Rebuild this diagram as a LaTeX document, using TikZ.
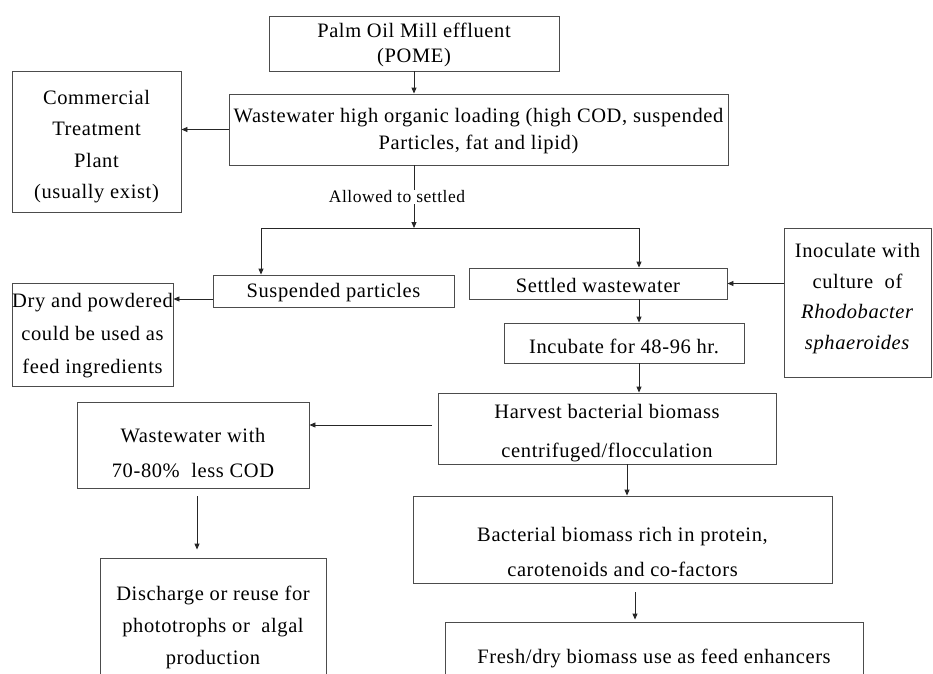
\documentclass[tikz,border=0pt]{standalone}
\usepackage{fontspec}
\setmainfont{Liberation Serif}[LetterSpace=3]
\usetikzlibrary{arrows.meta}
\tikzset{
  box/.style={draw=black!70, line width=0.9pt, inner sep=0pt},
  lbl/.style={font=\fontsize{20.5}{#1}\selectfont, align=center, inner sep=0pt, text=black},
  lbl/.default=25,
  conn/.style={draw=black!85, line width=0.9pt},
  arr/.style={conn, -{Triangle[length=6pt,width=5pt]}},
}
\begin{document}
\begin{tikzpicture}[x=1pt,y=-1pt]
\clip (0,0) rectangle (933,673);
\fill[white] (0,0) rectangle (933,673);

% boxes
\node[box, minimum width=290, minimum height=55,
  label={[lbl=25, yshift=-1pt]center:{Palm Oil Mill effluent\\(POME)}}] (pome) at (414,43.5) {};
\node[box, minimum width=499, minimum height=71,
  label={[lbl=27, yshift=-2pt]center:{Wastewater high organic loading (high COD, suspended\\Particles, fat and lipid)}}] (ww) at (478.5,129.5) {};
\node[box, minimum width=169, minimum height=141,
  label={[lbl=31.5, yshift=-5pt]center:{Commercial\\Treatment\\Plant\\(usually exist)}}] (comm) at (96.5,141.5) {};
\node[font=\fontsize{17.5}{20}\selectfont, inner sep=1pt] (lab) at (397,197) {Allowed to settled};
\node[box, minimum width=241, minimum height=32,
  label={[lbl, yshift=-2pt]center:{Suspended particles}}] (susp) at (333.5,291) {};
\node[box, minimum width=161, minimum height=103,
  label={[lbl=33, yshift=-1pt]center:{Dry and powdered\\could be used as\\feed ingredients}}] (dry) at (92.5,334.5) {};
\node[box, minimum width=258, minimum height=31,
  label={[lbl, yshift=-2pt]center:{Settled wastewater}}] (settled) at (598,283.5) {};
\node[box, minimum width=147, minimum height=149,
  label={[lbl=30.5, yshift=4pt]center:{Inoculate with\\culture~ of\\\textit{Rhodobacter}\\\textit{sphaeroides}}}] (inoc) at (857.5,302.5) {};
\node[box, minimum width=240, minimum height=40,
  label={[lbl, yshift=-3pt]center:{Incubate for 48-96 hr.}}] (incub) at (624,343) {};
\node[box, minimum width=338, minimum height=71,
  label={[lbl=39, yshift=-5pt]center:{Harvest bacterial biomass\\centrifuged/flocculation}}] (harv) at (607,428.5) {};
\node[box, minimum width=232, minimum height=86,
  label={[lbl=35, yshift=-8pt]center:{Wastewater with\\70-80\%~~less COD}}] (wwl) at (193,445) {};
\node[box, minimum width=226, minimum height=142,
  label={[lbl=32, yshift=2pt]center:{Discharge or reuse for\\phototrophs or~~algal\\production}}] (disc) at (213,629) {};
\node[box, minimum width=419, minimum height=87,
  label={[lbl=35, yshift=-12pt]center:{Bacterial biomass rich in protein,\\carotenoids and co-factors}}] (bact) at (622.5,539.5) {};
\node[box, minimum width=418, minimum height=78,
  label={[lbl, yshift=3pt]center:{Fresh/dry biomass use as feed enhancers}}] (fresh) at (654,661) {};

% connectors
\draw[arr] (pome) -- (pome |- ww.north);
\draw[arr] (ww.west) -- (comm.east |- ww.west);
\draw[conn] (pome |- ww.south) -- (pome |- lab.north);
\coordinate (split) at (414,228);
\draw[arr] (pome |- lab.south) -- (split);
\coordinate (sl) at (261,228);
\coordinate (sr) at (639,228);
\draw[conn] (sl) -- (sr);
\draw[arr] (sl) -- (sl |- susp.north);
\draw[arr] (sr) -- (sr |- settled.north);
\coordinate (s1) at ([yshift=-8pt]susp.west);
\draw[arr] (s1) -- (s1 -| dry.east);
\draw[arr] (inoc.west |- settled.east) -- (settled.east);
\draw[arr] (sr |- settled.south) -- (sr |- incub.north);
\draw[arr] (sr |- incub.south) -- (sr |- harv.north);
\coordinate (h1) at ([xshift=-6pt,yshift=3.5pt]harv.west);
\draw[arr] (h1) -- (h1 -| wwl.east);
\coordinate (d0) at (197,0);
\coordinate (d1) at ([yshift=-8pt]wwl.south);
\coordinate (d2) at ([yshift=8pt]disc.north);
\draw[arr] (d1 -| d0) -- (d2 -| d0);
\coordinate (hb) at (627,0);
\draw[arr] (hb |- harv.south) -- (hb |- bact.north);
\coordinate (bf) at (635,0);
\coordinate (b1) at ([yshift=-9pt]bact.south);
\coordinate (b2) at ([yshift=2pt]fresh.north);
\draw[arr] (b1 -| bf) -- (b2 -| bf);
\end{tikzpicture}
\end{document}
